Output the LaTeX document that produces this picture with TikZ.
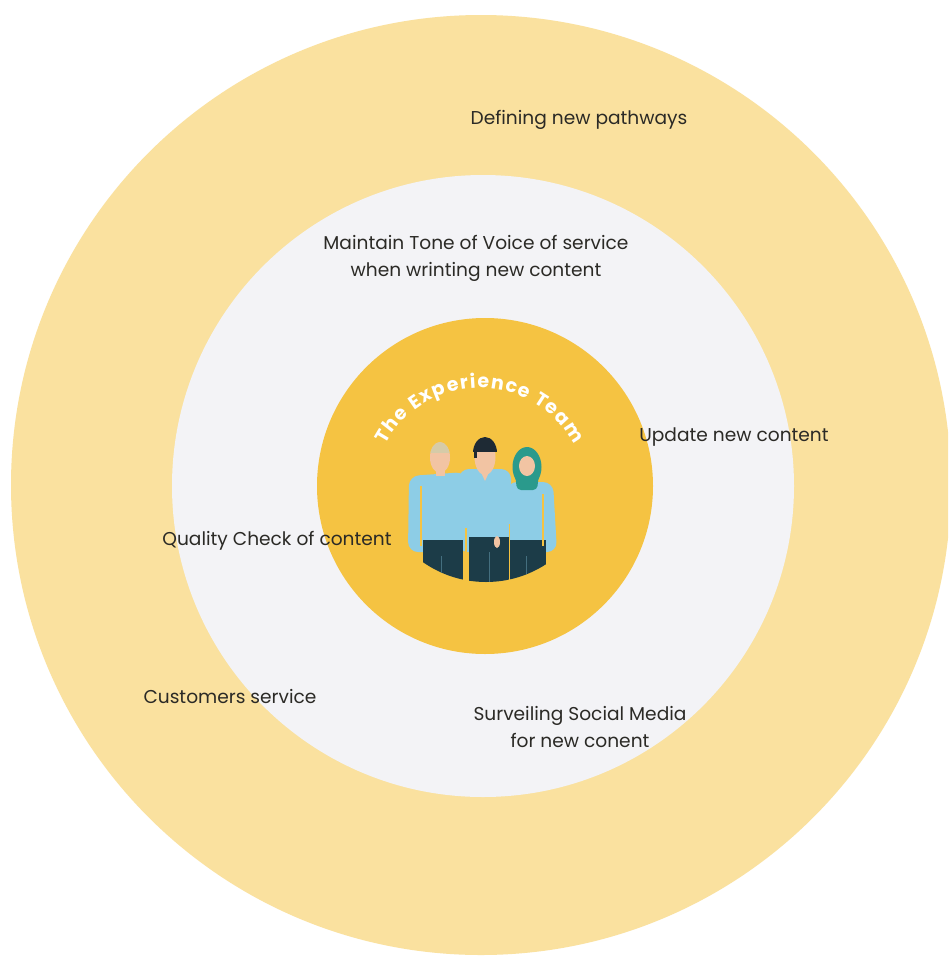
\documentclass[tikz,border=0pt]{standalone}
\usepackage{fontspec}
\setmainfont{Poppins}
\usetikzlibrary{decorations.text}
\definecolor{outerring}{HTML}{FAE19F}
\definecolor{midring}{HTML}{F3F3F6}
\definecolor{core}{HTML}{F5C342}
\definecolor{txt}{HTML}{2B2A26}
\definecolor{shirt}{HTML}{8DCDE6}
\definecolor{pants}{HTML}{1C3C48}
\definecolor{skin}{HTML}{F2C4A3}
\definecolor{blond}{HTML}{D6CBA8}
\definecolor{darkhair}{HTML}{1E2A34}
\definecolor{hijab}{HTML}{2A9A8C}
\begin{document}
\begin{tikzpicture}[x=1pt,y=-1pt,
  lbl/.style={text=txt, font=\fontsize{18.6}{27}\selectfont, align=center, inner sep=0pt},
  ring/.style={circle, inner sep=0pt, draw=none},
  gap/.style={draw=core, line width=1.1pt},
  leggap/.style={draw=pants!65!shirt, line width=0.9pt}]
\useasboundingbox (0,0) rectangle (948,956);
\clip (0,0) rectangle (948,956);
\fill[white] (0,0) rectangle (948,956);
\node[ring, fill=outerring, minimum size=940pt] (outer) at (481,485) {};
\node[ring, fill=midring, minimum size=622pt] (middle) at (483,486) {};
\node[ring, fill=core, minimum size=336pt] (inner) at (485,486) {};

% people
\begin{scope}
\clip (486,472) circle[radius=110pt];
% left man
\fill[shirt, rounded corners=10pt] (408,552) -- (409,476) -- (466,472) -- (468,552) -- cycle;
\fill[skin] (436,465) rectangle (445,476);
\fill[skin] (440,457.5) ellipse[x radius=10pt, y radius=15.5pt];
\begin{scope}
\clip (440,457.5) ellipse[x radius=10pt, y radius=15.5pt];
\fill[blond] (428,438) rectangle (452,453);
\end{scope}
% woman
\fill[shirt, rounded corners=10pt] (506,552) -- (507,482) -- (553,482) -- (557,552) -- cycle;
\fill[hijab, rounded corners=4pt] (515,474) -- (539,474) -- (537,490) -- (517,490) -- cycle;
\fill[hijab] (527,467) ellipse[x radius=14.5pt, y radius=20pt];
\fill[skin] (527,466) ellipse[x radius=8pt, y radius=10pt];
% middle man
\fill[shirt, rounded corners=10pt] (458,552) -- (459,469) -- (511,469) -- (512,552) -- cycle;
\fill[skin] (479,468) -- (491,468) -- (485,481) -- cycle;
\fill[skin] (485,457) ellipse[x radius=10.5pt, y radius=18pt];
\begin{scope}
\clip (470,434) rectangle (500,451);
\fill[darkhair] (485,453) ellipse[x radius=12pt, y radius=16pt];
\end{scope}
\fill[darkhair] (474,449) rectangle (477,458);
% pants
\fill[pants] (423,540) rectangle (463,600);
\fill[pants] (469,537) rectangle (509,600);
\fill[pants] (510,540) rectangle (546,600);
\fill[skin] (497,542) ellipse[x radius=3pt, y radius=6pt];
% gaps
\draw[gap] (421,486) -- (421,546);
\draw[gap] (543,494) -- (543,546);
\draw[gap] (466,528) -- (466,600);
\draw[gap] (509.5,524) -- (509.5,600);
\draw[leggap] (441,556) -- (441,600);
\draw[leggap] (489,552) -- (489,600);
\draw[leggap] (526,556) -- (526,600);
\end{scope}

% curved title
\begin{scope}[shift={(480,495)}, x=1pt, y=1pt]
\path[decorate, decoration={text along path, text align={fit to path},
  text={|\fontsize{19}{19}\selectfont\bfseries\color{white}|The Experience Team}}]
  (152:107) arc[start angle=152, end angle=28, radius=107];
\end{scope}

% labels
\node[lbl] (pathways) at (579,120) {Defining new pathways};
\node[lbl] (tone) at (476,258) {Maintain Tone of Voice of service\\when wrinting new content};
\node[lbl] (update) at (734,437) {Update new content};
\node[lbl] (quality) at (277,541) {Quality Check of content};
\node[lbl] (customers) at (230,696) {Customers service};
\node[lbl] (social) at (580,727) {Surveiling Social Media\\for new conent};
\end{tikzpicture}
\end{document}
